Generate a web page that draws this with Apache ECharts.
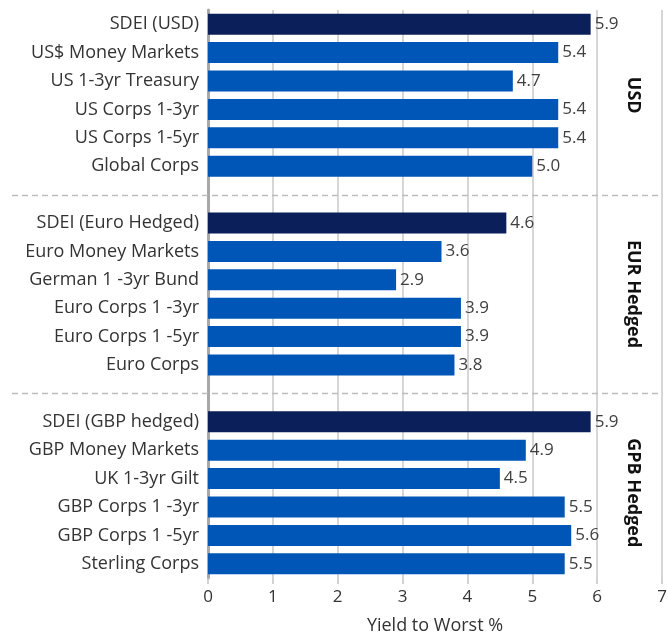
<!DOCTYPE html>
<html>
<head>
<meta charset="utf-8">
<script src="https://cdn.jsdelivr.net/npm/echarts@6/dist/echarts.min.js"></script>
<style>
  html, body { margin: 0; padding: 0; background: #fff; }
  #chart { width: 667px; height: 635px; }
</style>
</head>
<body>
<div id="chart"></div>
<script>
// Yield to worst (%) by currency block
const usdCategories = ['SDEI (USD)', 'US$ Money Markets', 'US 1-3yr Treasury', 'US Corps 1-3yr', 'US Corps 1-5yr', 'Global Corps'];
const usdYields = [5.9, 5.4, 4.7, 5.4, 5.4, 5.0];

const eurCategories = ['SDEI (Euro Hedged)', 'Euro Money Markets', 'German 1 -3yr Bund', 'Euro Corps 1 -3yr', 'Euro Corps 1 -5yr', 'Euro Corps'];
const eurYields = [4.6, 3.6, 2.9, 3.9, 3.9, 3.8];

const gbpCategories = ['SDEI (GBP hedged)', 'GBP Money Markets', 'UK 1-3yr Gilt', 'GBP Corps 1 -3yr', 'GBP Corps 1 -5yr', 'Sterling Corps'];
const gbpYields = [5.9, 4.9, 4.5, 5.5, 5.6, 5.5];

const groupNames = ['USD', 'EUR Hedged', 'GPB Hedged'];
const xTicks = [0, 1, 2, 3, 4, 5, 6, 7];

const NAVY = '#0b1f5b';
const BLUE = '#0056b6';
const FONT = '"Open Sans"';

// Stack the three blocks with an empty spacer row between them
const blocks = [
  { cats: usdCategories, vals: usdYields },
  { cats: eurCategories, vals: eurYields },
  { cats: gbpCategories, vals: gbpYields }
];
const categories = [];
const barData = [];
const spacerIdx = [];
const groupRange = [];
blocks.forEach((b, bi) => {
  if (bi > 0) {
    spacerIdx.push(categories.length);
    categories.push(' '.repeat(bi));
    barData.push(null);
  }
  const start = categories.length;
  b.cats.forEach((c, i) => {
    categories.push(c);
    barData.push({ value: b.vals[i], itemStyle: { color: i === 0 ? NAVY : BLUE } });
  });
  groupRange.push([start, categories.length - 1]);
});

const chart = echarts.init(document.getElementById('chart'), null, { renderer: 'canvas' });

chart.setOption({
  animation: false,
  grid: { left: 208, right: 5, top: 10, bottom: 57, containLabel: false, outerBoundsMode: 'none' },
  xAxis: {
    type: 'value',
    min: xTicks[0],
    max: xTicks[xTicks.length - 1],
    interval: 1,
    name: 'Yield to Worst %',
    nameLocation: 'middle',
    nameGap: 39,
    nameTextStyle: { color: '#333', fontSize: 18, fontFamily: FONT },
    axisLine: { show: false },
    axisTick: { show: true, length: 6, lineStyle: { color: '#c4c4c4', width: 1.5 } },
    axisLabel: { color: '#333', fontSize: 17, fontFamily: FONT, margin: 11 },
    splitLine: { show: true, lineStyle: { color: '#c8c8c8', width: 1.5 } }
  },
  yAxis: {
    type: 'category',
    data: categories,
    inverse: true,
    axisLine: { show: true, lineStyle: { color: '#a8a8a8', width: 3 } },
    axisTick: { show: false },
    axisLabel: { color: '#333', fontSize: 18, fontFamily: FONT, margin: 9 }
  },
  series: [{
    type: 'bar',
    data: barData,
    barWidth: 21,
    label: {
      show: true,
      position: 'right',
      distance: 4,
      color: '#404040',
      fontSize: 17,
      fontFamily: FONT,
      formatter: p => p.value.toFixed(1)
    }
  }]
});

// Dashed separators on the spacer rows and rotated block titles on the right
const xLeft = 12;
const xRight = chart.convertToPixel({ xAxisIndex: 0 }, 7);
const xTitle = (chart.convertToPixel({ xAxisIndex: 0 }, 6) + xRight) / 2 + 4;
const graphics = [];
spacerIdx.forEach(idx => {
  const y = Math.round(chart.convertToPixel({ yAxisIndex: 0 }, idx)) + 0.5;
  graphics.push({
    type: 'line',
    shape: { x1: xLeft, y1: y, x2: xRight, y2: y },
    style: { stroke: '#bdbdbd', lineWidth: 1.5, lineDash: [6, 4] },
    z: 10
  });
});
groupRange.forEach((r, gi) => {
  const y = (chart.convertToPixel({ yAxisIndex: 0 }, r[0]) + chart.convertToPixel({ yAxisIndex: 0 }, r[1])) / 2;
  graphics.push({
    type: 'text',
    x: xTitle,
    y: y,
    rotation: -Math.PI / 2,
    style: {
      text: groupNames[gi],
      fill: '#111',
      font: 'bold 18px ' + FONT,
      align: 'center',
      verticalAlign: 'middle'
    },
    z: 10
  });
});
chart.setOption({ graphic: graphics });
</script>
</body>
</html>
